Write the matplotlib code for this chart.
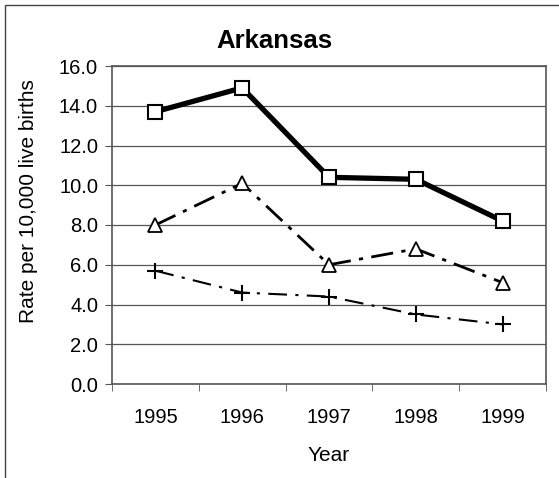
import matplotlib
matplotlib.use("Agg")
import matplotlib.pyplot as plt
from matplotlib.patches import Rectangle

years = ["1995", "1996", "1997", "1998", "1999"]
rate_total = [13.7, 14.9, 10.4, 10.3, 8.2]
rate_tri = [8.0, 10.1, 6.0, 6.8, 5.1]
rate_plus = [5.7, 4.6, 4.4, 3.5, 3.0]
yticks = [0, 2, 4, 6, 8, 10, 12, 14, 16]

plt.rcParams['font.family'] = ['Liberation Sans', 'DejaVu Sans']

fig = plt.figure(figsize=(5.59, 4.78), dpi=100)
ax = fig.add_axes([112/559, 1 - 384/478, (546-112)/559, (384-66)/478])

x = list(range(len(years)))
ax.plot(x, rate_total, color='black', lw=3.8, marker='s', ms=10,
        mfc='white', mec='black', mew=1.5, zorder=5)
ax.plot(x, rate_tri, color='black', lw=2.0, dashes=(8, 3, 1.5, 3), marker='^', ms=10,
        mfc='white', mec='black', mew=1.3, zorder=4)
ax.plot(x, rate_plus, color='black', lw=1.5, dashes=(9, 4, 1.5, 4), marker='+', ms=12,
        mec='black', mew=1.5, zorder=4)

ax.set_xlim(-0.5, 4.5)
ax.set_ylim(0, 16)
ax.set_yticks(yticks)
ax.set_yticklabels([f"{v:.1f}" for v in yticks], fontsize=14.5)
ax.set_xticks(x)
ax.set_xticklabels(years, fontsize=14.5)
ax.tick_params(axis='x', length=0, pad=17)
ax.set_xticks([i - 0.5 for i in range(len(years) + 1)], minor=True)
ax.tick_params(axis='x', which='minor', length=5, color='#555555')
ax.tick_params(axis='y', length=5, color='#555555', pad=5)

ax.grid(axis='y', color='#555555', lw=0.9)
ax.set_axisbelow(True)
for s in ax.spines.values():
    s.set_color('#555555')
    s.set_linewidth(1.2)

ax.set_xlabel("Year", fontsize=15, labelpad=14)
fig.text(29/559, 1 - 201/478, "Rate per 10,000 live births", fontsize=15,
         rotation=90, ha='center', va='center')
fig.text(274/559, 1 - 41/478, "Arkansas", fontsize=18.5, fontweight='bold',
         ha='center', va='center')

fig.patches.append(Rectangle((5/559, -0.1), 1.2, 1.1 - 5/478, transform=fig.transFigure,
                             fill=False, edgecolor='#444444', lw=1.0))

fig.savefig("out.png", dpi=100)
